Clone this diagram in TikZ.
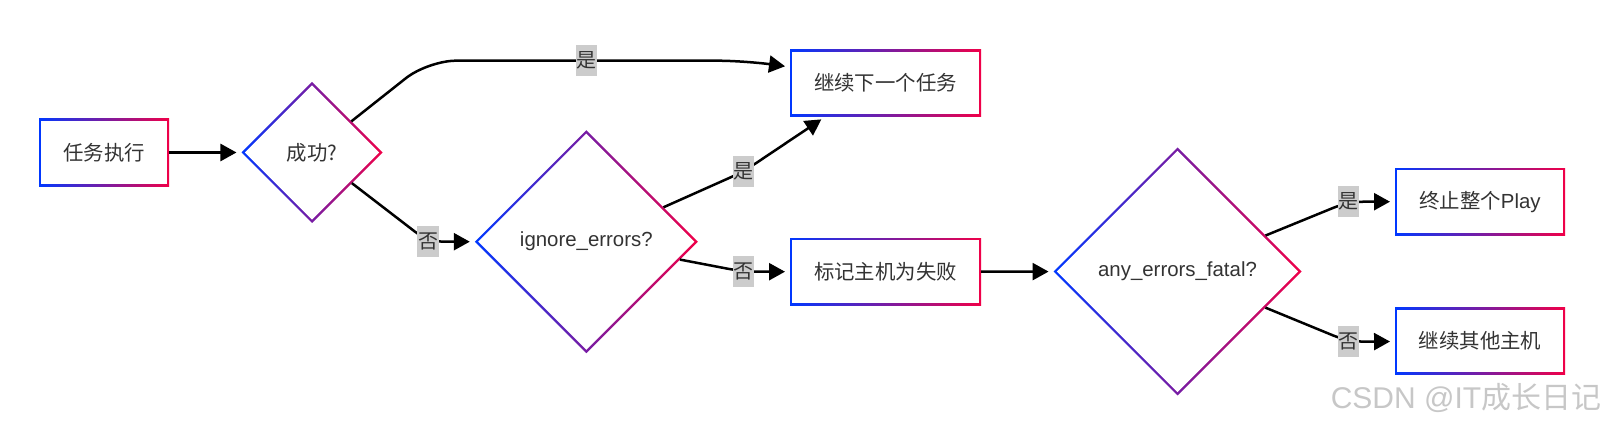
\documentclass[tikz,border=0pt]{standalone}
\usepackage{fontspec}
\setmainfont{Liberation Sans}
\newfontfamily\cjk{Noto Sans CJK SC}
\usetikzlibrary{arrows.meta,shapes.geometric}
\definecolor{edgeblue}{RGB}{0,56,255}
\definecolor{edgered}{RGB}{240,0,72}
\definecolor{txtgray}{RGB}{51,51,51}

\begin{document}
\begin{tikzpicture}[
  x=0.5pt, y=-0.5pt,
  every node/.style={text=txtgray, font=\fontsize{10.2}{12}\selectfont, inner sep=0pt, outer sep=0pt},
  process/.style={rectangle, minimum width=95.5pt, minimum height=33.6pt,
    font=\cjk\fontsize{10.2}{12}\selectfont,
    left color=edgeblue, right color=edgered,
    path picture={\fill[white] ([shift={(1.2pt,1.2pt)}]path picture bounding box.south west)
      rectangle ([shift={(-1.2pt,-1.2pt)}]path picture bounding box.north east);}},
  decision/.style={diamond, shape aspect=1, left color=edgeblue, right color=edgered,
    path picture={\fill[white] ([xshift=1.7pt]path picture bounding box.west)
      -- ([yshift=-1.7pt]path picture bounding box.north)
      -- ([xshift=-1.7pt]path picture bounding box.east)
      -- ([yshift=1.7pt]path picture bounding box.south) -- cycle;}},
  answer/.style={sharp corners, draw=none, fill=black!20, font=\cjk\fontsize{10}{12}\selectfont,
    inner xsep=0.3pt, minimum height=15.5pt},
  conn/.style={draw=black, line width=1.25pt, rounded corners=8pt, shorten >=2.5pt,
    -{Triangle[length=8pt,width=8.5pt]}}
]
  \useasboundingbox (0,0) rectangle (1604,426);
  % steps and questions
  \node[process, minimum width=65pt] (run) at (104,152.5) {任务执行};
  \node[decision, minimum width=70.5pt, minimum height=70.5pt] (ok) at (312,152.5) {\cjk 成功?};
  \node[decision, minimum width=111.5pt, minimum height=111.5pt] (ignore) at (586.3,241.7) {ignore\_errors?};
  \node[process] (next) at (885.5,83) {继续下一个任务};
  \node[process] (fail) at (885.5,271.7) {标记主机为失败};
  \node[decision, minimum width=124pt, minimum height=124pt] (fatal) at (1177.5,271.5) {any\_errors\_fatal?};
  \node[process, minimum width=85pt] (stop) at (1480,201.7) {终止整个{\rmfamily Play}};
  \node[process, minimum width=85pt] (other) at (1480,341.2) {继续其他主机};
  % bends
  \coordinate (okyes1) at (428,60.7);
  \coordinate (okyes2) at (745,60.7);
  \coordinate (okno) at (428,241.7);
  \coordinate (ignyes) at (743.3,171.7);
  \coordinate (ignno) at (743.3,271.7);
  \coordinate (fatyes) at (1348.3,201.7);
  \coordinate (fatno) at (1348.3,341.7);
  % arrows
  \draw[conn] (run) -- (ok);
  \draw[conn, rounded corners=14pt] (ok) -- (okyes1) -- node[answer] {是} (okyes2) -- ([yshift=8pt]next.west);
  \draw[conn] (ok) -- (okno) node[answer] {否} -- (ignore);
  \draw[conn] (ignore) -- (ignyes) node[answer] {是} -- ([xshift=-30pt]next.south);
  \draw[conn] (ignore) -- (ignno) node[answer] {否} -- (fail);
  \draw[conn] (fail) -- (fatal);
  \draw[conn] (fatal) -- (fatyes) node[answer] {是} -- (stop);
  \draw[conn] (fatal) -- (fatno) node[answer] {否} -- (other);
  % watermark
  \node[text=black!22, font=\fontsize{15}{15}\selectfont] (wm) at (1466,398) {CSDN @IT{\cjk 成长日记}};
\end{tikzpicture}
\end{document}
